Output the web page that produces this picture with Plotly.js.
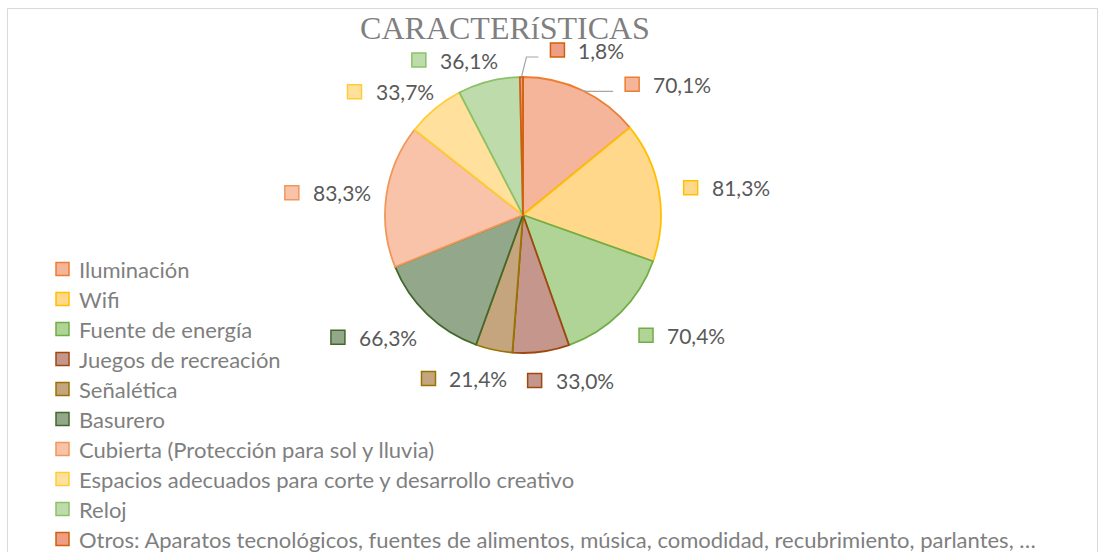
<!DOCTYPE html>
<html>
<head>
<meta charset="utf-8">
<script src="https://cdn.plot.ly/plotly-3.0.1.min.js"></script>
<style>html,body{margin:0;padding:0;background:#fff;}#chart{width:1100px;height:552px;}</style>
</head>
<body>
<div id="chart"></div>
<script>
// ---- data ----
const categories = [
  "Iluminación",
  "Wifi",
  "Fuente de energía",
  "Juegos de recreación",
  "Señalética",
  "Basurero",
  "Cubierta (Protección para sol y lluvia)",
  "Espacios adecuados para corte y desarrollo creativo",
  "Reloj",
  "Otros: Aparatos tecnológicos, fuentes de alimentos, música, comodidad, recubrimiento, parlantes, …"
];
const values = [70.1, 81.3, 70.4, 33.0, 21.4, 66.3, 83.3, 33.7, 36.1, 1.8];

// ---- styles ----
const fillColors = ["#F5B59B", "#FFD88C", "#B0D496", "#C5978C", "#C4A57E", "#93A88A", "#F8C3A9", "#FFE09C", "#BEDCAB", "#EF9E83"];
const lineColors = ["#ED7D31", "#FFC000", "#70AD47", "#9E480E", "#997300", "#43682B", "#F1975A", "#FFCD33", "#8CC168", "#D0600F"];

const W = 1100, H = 552;
const cx = 523, cy = 215, r = 138;           // pie geometry in px
const labelFont = {family: "Lato, 'Open Sans', sans-serif", size: 21, color: "#595959"};
const legendFont = {family: "Lato, 'Open Sans', sans-serif", size: 22, color: "#7F7F7F"};
const sq = 14, gap = 12, boxH = 18, minGap = 22;
const leaderOffsets = {0: [43, -6], 9: [29, -27]}; // label nudges (px) for crowded labels
const legendLeft = 56, legendTop = 269, legendStep = 30, legendSq = 13;

const px = x => x / W;
const py = y => 1 - y / H;

// measure text
const ctx = document.createElement("canvas").getContext("2d");
ctx.font = labelFont.size + "px Lato";
const textW = t => ctx.measureText(t).width;

const total = values.reduce((a, b) => a + b, 0);
const labelTexts = values.map(v => v.toFixed(1).replace(".", ",") + "%");

const shapes = [];
const annotations = [];

// chart border
shapes.push({type: "rect", xref: "paper", yref: "paper", x0: px(7.5), x1: px(1097.5), y0: -0.05, y1: py(8.5),
  line: {color: "#D9D9D9", width: 1}, fillcolor: "rgba(0,0,0,0)", layer: "below"});

// data label placement
const pos = [];
let cum = 0;
values.forEach((v, i) => {
  const frac = v / total;
  const mid = (cum + frac / 2) * 2 * Math.PI;
  cum += frac;
  const s = Math.sin(mid), c = Math.cos(mid);
  const boxW = sq + gap + textW(labelTexts[i]);
  const p = {boxW, leader: null};
  if (leaderOffsets[i]) {
    const ex = cx + r * s, ey = cy - r * c;
    p.left = ex + leaderOffsets[i][0];
    p.midY = ey + leaderOffsets[i][1];
    p.leader = [ex, ey];
  } else {
    const R = r + 22;
    const ax = cx + R * s, ay = cy - R * c;
    const side = Math.abs(s) > 0.3 || (c > 0 && Math.abs(s) > 0.1);
    if (side && s > 0) p.left = ax + 3;
    else if (side && s < 0) p.left = ax + 3 + 10 * Math.max(c, 0) - boxW;
    else p.left = ax - boxW / 2;
    if (c < -0.3) p.midY = ay + 7;
    else p.midY = ay;
  }
  pos.push(p);
});

// simple overlap resolution between neighbouring plain labels
for (let a = 0; a < pos.length; a++) {
  for (let b = a + 1; b < pos.length; b++) {
    const A = pos[a], B = pos[b];
    if (A.leader || B.leader) continue;
    if (Math.abs(A.midY - B.midY) >= boxH) continue;
    const [L, Rt] = (A.left + A.boxW / 2 < B.left + B.boxW / 2) ? [A, B] : [B, A];
    const need = (L.left + L.boxW + minGap) - Rt.left;
    if (need > 0) { L.left -= need / 2; Rt.left += need / 2; }
  }
}

pos.forEach((p, i) => {
  if (p.leader) {
    const [ex, ey] = p.leader;
    const ky = p.midY + 7;
    shapes.push({type: "path", xref: "paper", yref: "paper",
      path: `M${px(ex)},${py(ey)} L${px(ex + 5)},${py(ky)} L${px(p.left - 12)},${py(ky)}`,
      line: {color: "#A6A6A6", width: 1.2}});
  }
  shapes.push({type: "rect", xref: "paper", yref: "paper",
    x0: px(p.left), x1: px(p.left + sq), y0: py(p.midY + sq / 2), y1: py(p.midY - sq / 2),
    fillcolor: fillColors[i], line: {color: lineColors[i], width: 1.5}});
  annotations.push({xref: "paper", yref: "paper", x: px(p.left + sq + gap), y: py(p.midY),
    xanchor: "left", yanchor: "middle", showarrow: false, text: labelTexts[i], font: labelFont});
});

// legend (drawn as squares + text)
categories.forEach((name, i) => {
  const yc = legendTop + legendStep * i;
  shapes.push({type: "rect", xref: "paper", yref: "paper",
    x0: px(legendLeft), x1: px(legendLeft + legendSq), y0: py(yc + legendSq / 2), y1: py(yc - legendSq / 2),
    fillcolor: fillColors[i], line: {color: lineColors[i], width: 1.5}});
  annotations.push({xref: "paper", yref: "paper", x: px(legendLeft + legendSq + 8), y: py(yc),
    xanchor: "left", yanchor: "middle", showarrow: false, text: name, font: legendFont});
});

const trace = {
  type: "pie",
  labels: categories,
  values: values,
  sort: false,
  direction: "clockwise",
  rotation: 0,
  textinfo: "none",
  hoverinfo: "skip",
  showlegend: false,
  marker: {colors: fillColors, line: {color: lineColors, width: 1.8}},
  domain: {x: [px(cx - r), px(cx + r)], y: [py(cy + r), py(cy - r)]}
};

const layout = {
  width: W, height: H, autosize: false,
  margin: {l: 0, r: 0, t: 0, b: 0},
  paper_bgcolor: "#fff",
  title: {text: "CARACTERíSTICAS", x: px(505), xanchor: "center", y: py(28), yanchor: "middle",
    font: {family: "'Liberation Serif', 'Times New Roman', serif", size: 32, color: "#7F7F7F"}},
  showlegend: false,
  shapes: shapes,
  annotations: annotations
};

Plotly.newPlot("chart", [trace], layout, {displayModeBar: false, staticPlot: true});
</script>
</body>
</html>
